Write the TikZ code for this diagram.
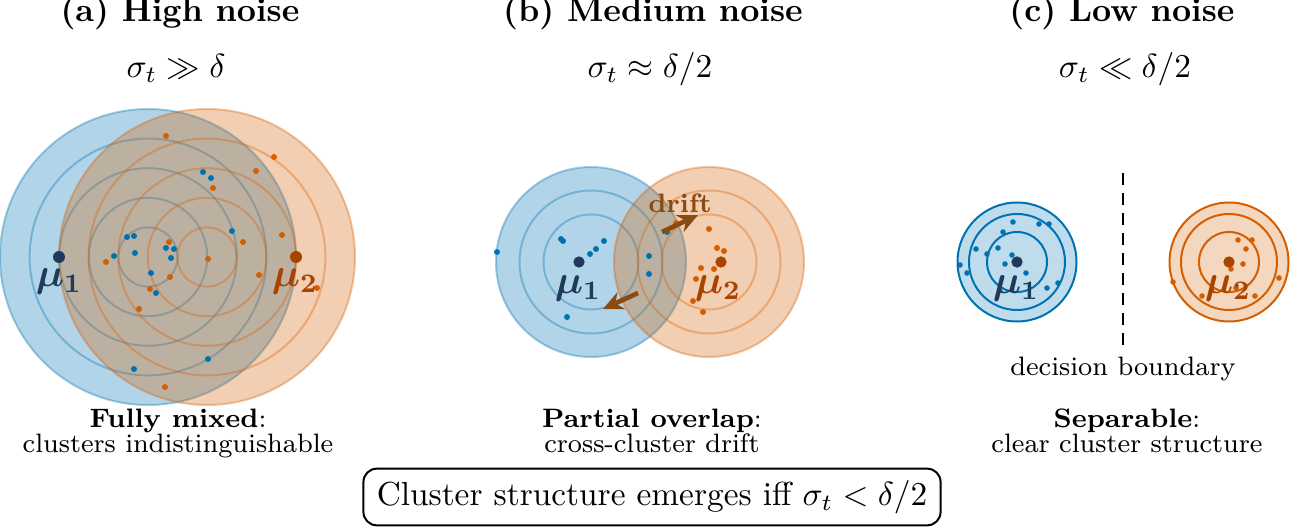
\documentclass[tikz,border=0pt]{standalone}
\usetikzlibrary{arrows.meta}
\definecolor{cblue}{HTML}{0072B2}
\definecolor{corange}{HTML}{D55E00}
\definecolor{mublue}{HTML}{1F3B5C}
\definecolor{muorange}{HTML}{A84300}
\definecolor{driftc}{HTML}{8B4A0F}
\begin{document}
\begin{tikzpicture}[x=0.3pt,y=-0.3pt,
  bluezone/.style={fill=cblue,fill opacity=0.3,draw=cblue,draw opacity=0.35,line width=0.6pt},
  orangezone/.style={fill=corange,fill opacity=0.3,draw=corange,draw opacity=0.35,line width=0.6pt},
  bluering/.style={draw=cblue,draw opacity=0.35,line width=0.6pt},
  orangering/.style={draw=corange,draw opacity=0.35,line width=0.6pt},
  bluesolid/.style={fill=cblue,fill opacity=0.25,draw=cblue,line width=0.6pt},
  orangesolid/.style={fill=corange,fill opacity=0.25,draw=corange,line width=0.6pt},
  bluesolidring/.style={draw=cblue,line width=0.6pt},
  orangesolidring/.style={draw=corange,line width=0.6pt},
  mudot/.style={circle,inner sep=0pt,minimum size=3.4pt},
  mulabel/.style={inner sep=0pt,font=\fontsize{12}{14}\selectfont\boldmath},
  titletext/.style={anchor=base,font=\normalsize\bfseries},
  condtext/.style={anchor=base,font=\normalsize},
  captext/.style={anchor=base,font=\footnotesize},
  driftarrow/.style={draw=driftc,line width=1.4pt,-{Stealth[length=6pt,width=5.5pt]}},
  summarybox/.style={draw,rounded corners=4pt,line width=0.6pt,inner xsep=4pt,inner ysep=3.5pt,font=\normalsize}
]
\useasboundingbox (0,0) rectangle (1290,527);

% ---------------- titles ----------------
\node[titletext] (ta) at (180,22) {(a) High noise};
\node[titletext] (tb) at (653,22) {(b) Medium noise};
\node[titletext] (tc) at (1122,22) {(c) Low noise};
\node[condtext] (ca) at (176,78) {$\sigma_t \gg \delta$};
\node[condtext] (cb) at (650,78) {$\sigma_t \approx \delta/2$};
\node[condtext] (cc) at (1125,78) {$\sigma_t \ll \delta/2$};

% ---------------- panel (a) ----------------
\fill[bluezone] (148,257) circle[radius=148];
\foreach \r in {29.6,59.2,88.8,118.4} \draw[bluering] (148,257) circle[radius=\r];
\fill[orangezone] (207,257) circle[radius=148];
\foreach \r in {29.6,59.2,88.8,118.4} \draw[orangering] (207,257) circle[radius=\r];
\foreach \p in {(203,172),(211,178),(232,231),(127,237),(134,236),(166,248),(174,249),(135,253),(114,256),(171,258),(151,273),(156,293),(208,359),(134,369)}
  \fill[cblue] \p circle[radius=3];
\foreach \p in {(166,136),(274,157),(256,171),(213,188),(282,235),(243,242),(169,242),(106,262),(208,259),(170,277),(259,275),(150,289),(139,309),(165,387),(317,288)}
  \fill[corange] \p circle[radius=3];
\node[mudot,fill=mublue,minimum size=3.6pt] (mua1) at (59,257) {};
\node[mudot,fill=muorange,minimum size=3.6pt] (mua2) at (296,257) {};
\node[mulabel,text=mublue] (lmua1) at (59,282) {$\mu_1$};
\node[mulabel,text=muorange] (lmua2) at (295,282) {$\mu_2$};

% ---------------- panel (b) ----------------
\fill[bluezone] (591,262) circle[radius=95];
\foreach \r in {47.5,71.5} \draw[bluering] (591,262) circle[radius=\r];
\fill[orangezone] (709,262) circle[radius=95];
\foreach \r in {47.5,71.5} \draw[orangering] (709,262) circle[radius=\r];
\foreach \p in {(497,252),(561,239),(563,241),(604,241),(596,249),(590,254),(567,317),(649,256),(649,274),(667,232)}
  \fill[cblue] \p circle[radius=3];
\foreach \p in {(709,229),(717,248),(724,251),(701,268),(714,269),(696,279),(693,301),(703,312),(676,223)}
  \fill[corange] \p circle[radius=3];
\node[mudot,fill=mublue] (mub1) at (579,262) {};
\node[mudot,fill=muorange] (mub2) at (721,262) {};
\node[mulabel,text=mublue] (lmub1) at (578,289) {$\mu_1$};
\node[mulabel,text=muorange] (lmub2) at (718,289) {$\mu_2$};
\coordinate (d1s) at (662,232);
\coordinate (d1e) at (698,215);
\coordinate (d2s) at (638,293);
\coordinate (d2e) at (603,309);
\draw[driftarrow] (d1s) -- (d1e);
\draw[driftarrow] (d2s) -- (d2e);
\node[font=\footnotesize\bfseries,text=driftc,inner sep=0pt] (driftlbl) at (680,203) {drift};

% ---------------- panel (c) ----------------
\fill[bluesolid] (1017,262) circle[radius=59.5];
\foreach \r in {30,48} \draw[bluesolidring] (1017,262) circle[radius=\r];
\fill[orangesolid] (1229,262) circle[radius=59.5];
\foreach \r in {30,48} \draw[orangesolidring] (1229,262) circle[radius=\r];
\foreach \p in {(1013,222),(1039,224),(1049,224),(1003,232),(976,249),(998,248),(987,254),(1012,255),(1005,264),(960,265),(967,273),(1026,273),(1047,288),(1058,283)}
  \fill[cblue] \p circle[radius=2.8];
\foreach \p in {(1238,240),(1252,240),(1246,249),(1243,264),(1231,269),(1173,282),(1279,278),(1236,288),(1202,296),(1255,296)}
  \fill[corange] \p circle[radius=2.8];
\node[mudot,fill=mublue] (muc1) at (1017,262) {};
\node[mudot,fill=muorange] (muc2) at (1229,262) {};
\node[mulabel,text=mublue] (lmuc1) at (1016,289) {$\mu_1$};
\node[mulabel,text=muorange] (lmuc2) at (1228,289) {$\mu_2$};
\coordinate (bt) at (1123,173);
\coordinate (bb) at (1123,352);
\draw[line width=0.8pt,dash pattern=on 3.5pt off 2.5pt] (bt) -- (bb);
\node[captext] (dbl) at (1123,376) {decision boundary};

% ---------------- captions ----------------
\node[captext] (capa1) at (178,428) {\textbf{Fully mixed}:};
\node[captext] (capa2) at (178,452) {clusters indistinguishable};
\node[captext] (capb1) at (652,428) {\textbf{Partial overlap}:};
\node[captext] (capb2) at (652,452) {cross-cluster drift};
\node[captext] (capc1) at (1127,428) {\textbf{Separable}:};
\node[captext] (capc2) at (1127,452) {clear cluster structure};

\node[summarybox] (summary) at (652,497) {Cluster structure emerges iff $\sigma_t < \delta/2$};
\end{tikzpicture}
\end{document}
